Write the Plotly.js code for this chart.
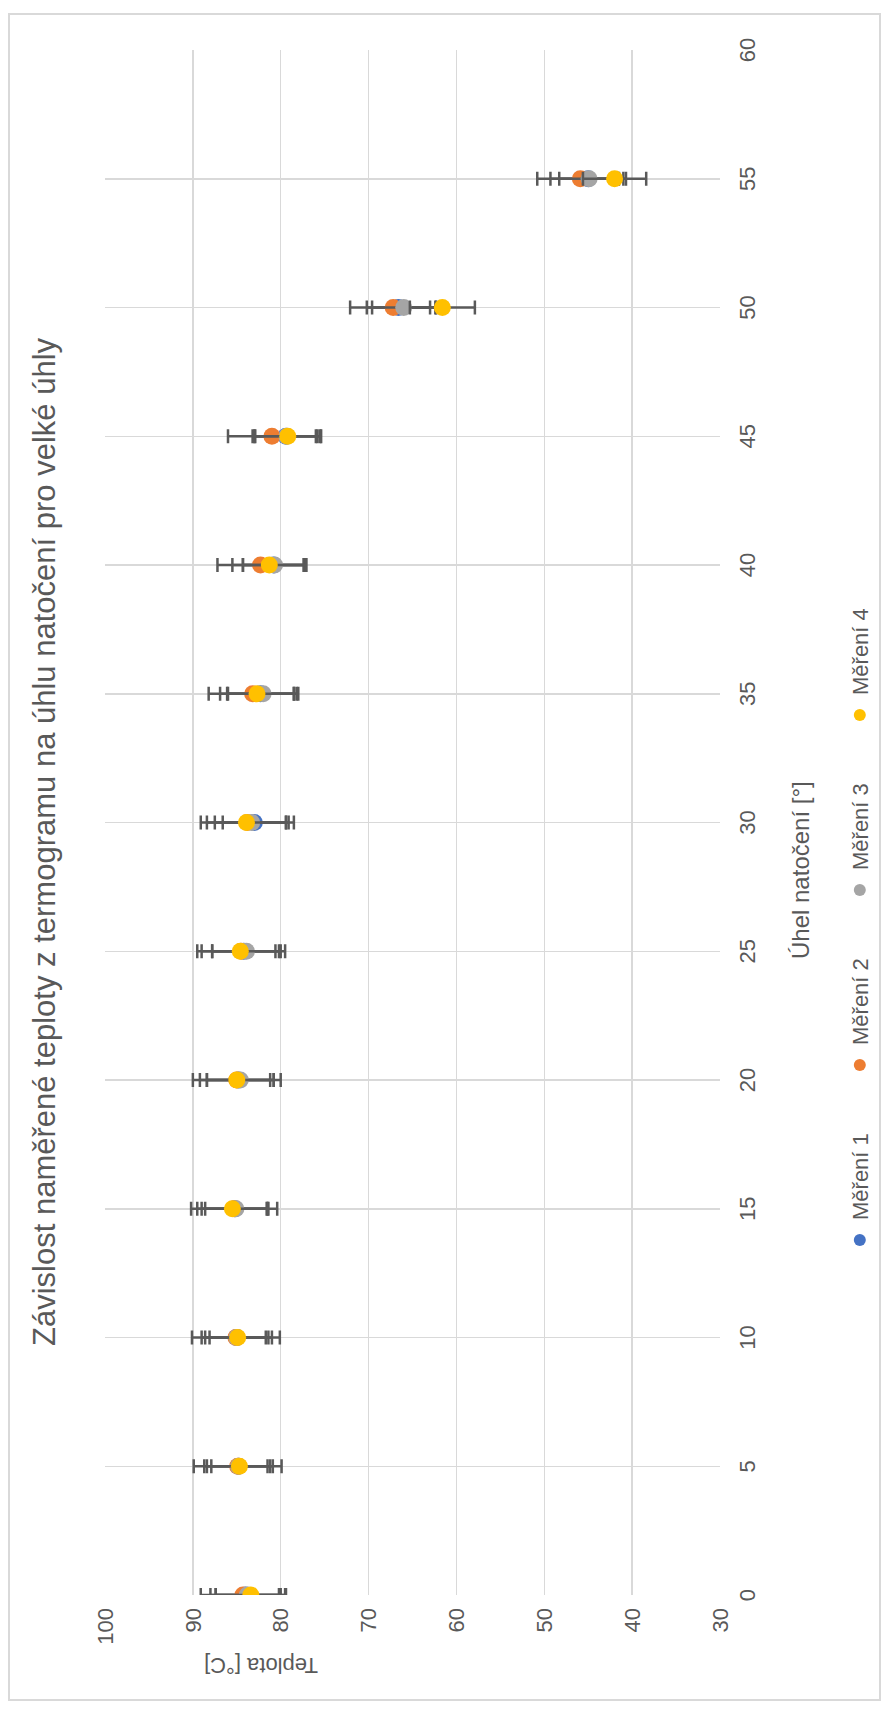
<!DOCTYPE html>
<html>
<head>
<meta charset="utf-8">
<script src="https://cdn.plot.ly/plotly-3.0.1.min.js"></script>
<style>
html,body{margin:0;padding:0;background:#fff;overflow:hidden;}
#wrap{position:absolute;left:0;top:0;width:893px;height:1710px;overflow:hidden;}
#chart{position:absolute;left:0;top:0;width:1710px;height:893px;transform-origin:0 0;transform:translate(0,1710px) rotate(-90deg);}
#frame{position:absolute;left:9px;top:8px;width:1688px;height:873px;border:2px solid #d9d9d9;box-sizing:border-box;pointer-events:none;}
</style>
</head>
<body>
<div id="wrap"><div id="chart"><div id="plot" style="width:1710px;height:893px;"></div><div id="frame"></div></div></div>
<script>
const angles = [0, 5, 10, 15, 20, 25, 30, 35, 40, 45, 50, 55];
const seriesNames = ["Měření 1", "Měření 2", "Měření 3", "Měření 4"];
const m1 = [84.0, 84.8, 85.0, 85.2, 84.8, 84.2, 83.0, 82.3, 80.8, 79.4, 66.6, 45.0];
const m2 = [84.3, 84.9, 85.1, 85.3, 85.0, 84.5, 83.8, 83.2, 82.3, 81.0, 67.2, 45.9];
const m3 = [83.8, 84.8, 85.0, 85.1, 84.6, 83.9, 83.3, 82.0, 80.7, 79.3, 66.0, 44.9];
const m4 = [83.4, 84.7, 84.9, 85.5, 85.0, 84.6, 83.9, 82.7, 81.3, 79.2, 61.6, 42.0];
const e1 = [4.0, 3.6, 3.6, 3.8, 3.6, 3.6, 3.6, 3.8, 3.5, 3.6, 3.6, 4.3];
const e2 = [4.8, 5.0, 5.0, 4.9, 5.0, 5.0, 5.3, 5.0, 4.9, 5.0, 4.9, 4.9];
const e3 = [3.6, 3.9, 4.0, 3.5, 3.8, 3.9, 4.2, 4.0, 3.6, 3.9, 3.6, 3.4];
const e4 = [4.0, 3.2, 3.2, 4.0, 4.2, 4.4, 4.5, 4.2, 4.2, 3.7, 3.7, 3.6];
const colors = ["#4472c4", "#ed7d31", "#a5a5a5", "#ffc000"];
const xTickVals = [0, 5, 10, 15, 20, 25, 30, 35, 40, 45, 50, 55, 60];
const yTickVals = [30, 40, 50, 60, 70, 80, 90, 100];

const vals = [m1, m2, m3, m4];
const errs = [e1, e2, e3, e4];
const FONT = "Liberation Sans, Arial, sans-serif";
const GREY = "#595959";

const traces = vals.map((v, i) => ({
  type: "scatter", mode: "markers", name: seriesNames[i],
  x: angles, y: v,
  marker: {color: colors[i], size: 17, line: {width: 0}},
  error_y: {type: "data", array: errs[i], visible: true, color: GREY, thickness: 2.5, width: 7}
}));

const L = 115, T = 105, W = 1545, H = 615;
const px = u => (u - L) / W;
const py = v => (T + H - v) / H;
const layout = {
  width: 1710, height: 893,
  margin: {l: L, r: 1710 - L - W, t: T, b: 893 - T - H, pad: 0},
  paper_bgcolor: "#ffffff", plot_bgcolor: "#ffffff",
  font: {family: FONT, color: GREY},
  title: {text: "Závislost naměřené teploty z termogramu na úhlu natočení pro velké úhly",
    font: {family: FONT, size: 31, color: GREY},
    xref: "container", yref: "container", x: 868 / 1710, xanchor: "center", y: 1 - 44 / 893, yanchor: "middle"},
  xaxis: {range: [0, 60], tickvals: xTickVals, ticktext: xTickVals.map(String), showgrid: true, gridcolor: "#d9d9d9", gridwidth: 1.5,
    zeroline: false, showline: false, ticks: "", tickfont: {family: FONT, size: 22, color: GREY}, ticklabelstandoff: 12},
  yaxis: {range: [30, 100], tickvals: yTickVals, ticktext: yTickVals.map(String), showgrid: true, gridcolor: "#d9d9d9", gridwidth: 1.5,
    zeroline: false, showline: false, ticks: "", tickfont: {family: FONT, size: 22, color: GREY}, ticklabelstandoff: 12},
  annotations: [
    {text: "Úhel natočení [°]", xref: "paper", yref: "paper", x: px(840), y: py(800), xanchor: "center", yanchor: "middle",
      showarrow: false, font: {family: FONT, size: 24, color: GREY}},
    {text: "Teplota [°C]", xref: "paper", yref: "paper", x: px(44), y: py(261), xanchor: "center", yanchor: "middle", textangle: -90,
      showarrow: false, font: {family: FONT, size: 22, color: GREY}}
  ],
  showlegend: true,
  legend: {orientation: "h", x: 800 / 1710, xref: "container", xanchor: "center", y: 1 - 860 / 893, yref: "container", yanchor: "middle",
    font: {family: FONT, size: 22, color: GREY}, itemsizing: "constant", bgcolor: "rgba(0,0,0,0)",
    entrywidth: 130, entrywidthmode: "pixels", itemwidth: 30}
};

Plotly.newPlot("plot", traces, layout, {displayModeBar: false, staticPlot: true});
</script>
</body>
</html>
